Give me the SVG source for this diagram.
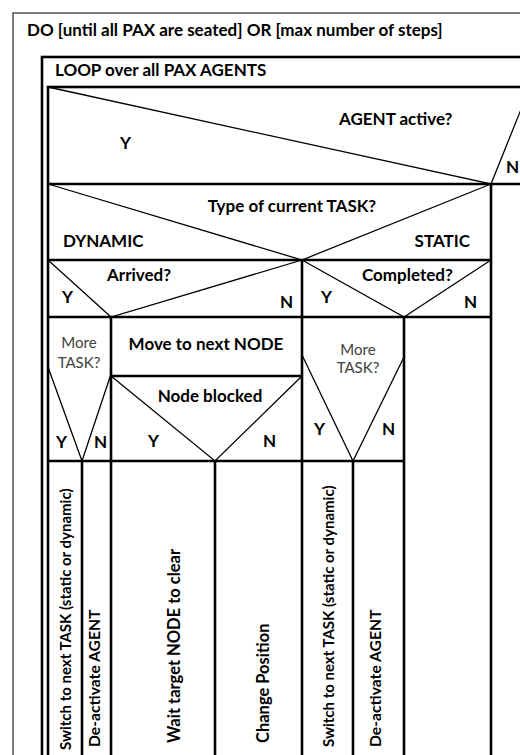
<svg xmlns="http://www.w3.org/2000/svg" width="520" height="755" viewBox="0 0 520 755">
  <style>
    .lbl { font-family: Lato, "Liberation Sans", sans-serif; font-weight: 700; font-size: 17px; fill: #000; }
    .mid { text-anchor: middle; }
    .q { font-family: Lato, "Liberation Sans", sans-serif; font-weight: 400; font-size: 15px; fill: #404040; text-anchor: middle; }
    .act { font-family: Lato, "Liberation Sans", sans-serif; font-weight: 700; font-size: 16.5px; fill: #000; }
    .act-s { font-size: 15px; }
    .act-m { font-size: 15.7px; }
    .frame { fill: none; stroke: #444; stroke-width: 1.4; }
    .thick { fill: none; stroke: #000; stroke-width: 2.6; }
    .thin { fill: none; stroke: #000; stroke-width: 1.3; }
  </style>
  <rect width="520" height="755" fill="#fff"/>

  <!-- outer repeat loop -->
  <g id="do-loop">
    <rect class="frame" x="13" y="13" width="600" height="800"/>
    <text class="lbl" x="27" y="36">DO [until all PAX are seated] OR [max number of steps]</text>
  </g>

  <!-- loop over agents -->
  <g id="pax-loop">
    <rect class="thick" x="42" y="57" width="600" height="800"/>
    <text class="lbl" x="55" y="76">LOOP over all PAX AGENTS</text>
  </g>

  <!-- decision: agent active -->
  <g id="agent-active">
    <rect class="thick" x="48" y="87" width="600" height="800"/>
    <line class="thick" x1="48" y1="184" x2="530" y2="184"/>
    <polyline class="thin" points="48,87 491,184 530,87"/>
    <text class="lbl" x="339" y="125">AGENT active?</text>
    <text class="lbl" x="120" y="149">Y</text>
    <text class="lbl" x="506" y="173">N</text>
    <line class="thick" x1="491" y1="184" x2="491" y2="760"/>
  </g>

  <!-- decision: task type -->
  <g id="task-type">
    <line class="thick" x1="48" y1="260" x2="491" y2="260"/>
    <polyline class="thin" points="48,184 302,260 491,184"/>
    <text class="lbl mid" x="292" y="212">Type of current TASK?</text>
    <text class="lbl" x="63" y="247">DYNAMIC</text>
    <text class="lbl" x="470" y="247" text-anchor="end">STATIC</text>
    <line class="thick" x1="302" y1="260" x2="302" y2="760"/>
  </g>

  <!-- dynamic: arrived -->
  <g id="arrived">
    <line class="thick" x1="48" y1="317" x2="491" y2="317"/>
    <polyline class="thin" points="48,260 111,317 302,260"/>
    <text class="lbl" x="107" y="281">Arrived?</text>
    <text class="lbl" x="62" y="303">Y</text>
    <text class="lbl" x="280" y="308">N</text>
    <line class="thick" x1="111" y1="317" x2="111" y2="760"/>
  </g>

  <!-- static: completed -->
  <g id="completed">
    <polyline class="thin" points="302,260 404,317 491,260"/>
    <text class="lbl" x="362" y="281">Completed?</text>
    <text class="lbl" x="321" y="303">Y</text>
    <text class="lbl" x="464" y="308">N</text>
    <line class="thick" x1="404" y1="317" x2="404" y2="760"/>
  </g>

  <!-- dynamic, arrived: more tasks -->
  <g id="more-task-dynamic">
    <polyline class="thin" points="48,367 82,461 111,374"/>
    <text class="q" x="79" y="348">More</text>
    <text class="q" x="79" y="368">TASK?</text>
    <text class="lbl" x="56" y="448">Y</text>
    <text class="lbl" x="94" y="448">N</text>
    <line class="thick" x1="48" y1="461" x2="302" y2="461"/>
    <line class="thick" x1="82" y1="461" x2="82" y2="760"/>
  </g>

  <!-- dynamic, not arrived: move -->
  <g id="move-node">
    <line class="thick" x1="111" y1="376" x2="302" y2="376"/>
    <text class="lbl mid" x="206" y="350">Move to next NODE</text>
  </g>

  <!-- node blocked decision -->
  <g id="node-blocked">
    <polyline class="thin" points="111,376 215,461 302,376"/>
    <text class="lbl mid" x="210" y="402">Node blocked</text>
    <text class="lbl" x="148" y="447">Y</text>
    <text class="lbl" x="263" y="447">N</text>
    <line class="thick" x1="215" y1="461" x2="215" y2="760"/>
  </g>

  <!-- static, completed: more tasks -->
  <g id="more-task-static">
    <polyline class="thin" points="302,355 353,461 404,357"/>
    <text class="q" x="358" y="355">More</text>
    <text class="q" x="358" y="373">TASK?</text>
    <text class="lbl" x="314" y="435">Y</text>
    <text class="lbl" x="382" y="435">N</text>
    <line class="thick" x1="302" y1="461" x2="404" y2="461"/>
    <line class="thick" x1="353" y1="461" x2="353" y2="760"/>
  </g>

  <!-- actions (vertical labels) -->
  <g id="act-switch-dynamic">
    <text class="act act-s" transform="translate(71,750) rotate(-90)">Switch to next TASK (static or dynamic)</text>
  </g>
  <g id="act-deactivate-dynamic">
    <text class="act act-m" transform="translate(100,747) rotate(-90)">De-activate AGENT</text>
  </g>
  <g id="act-wait">
    <text class="act" transform="translate(180,743) rotate(-90)">Wait target NODE to clear</text>
  </g>
  <g id="act-change">
    <text class="act" transform="translate(269,743) rotate(-90)">Change Position</text>
  </g>
  <g id="act-switch-static">
    <text class="act act-s" transform="translate(334,747) rotate(-90)">Switch to next TASK (static or dynamic)</text>
  </g>
  <g id="act-deactivate-static">
    <text class="act act-m" transform="translate(381,747) rotate(-90)">De-activate AGENT</text>
  </g>
</svg>
